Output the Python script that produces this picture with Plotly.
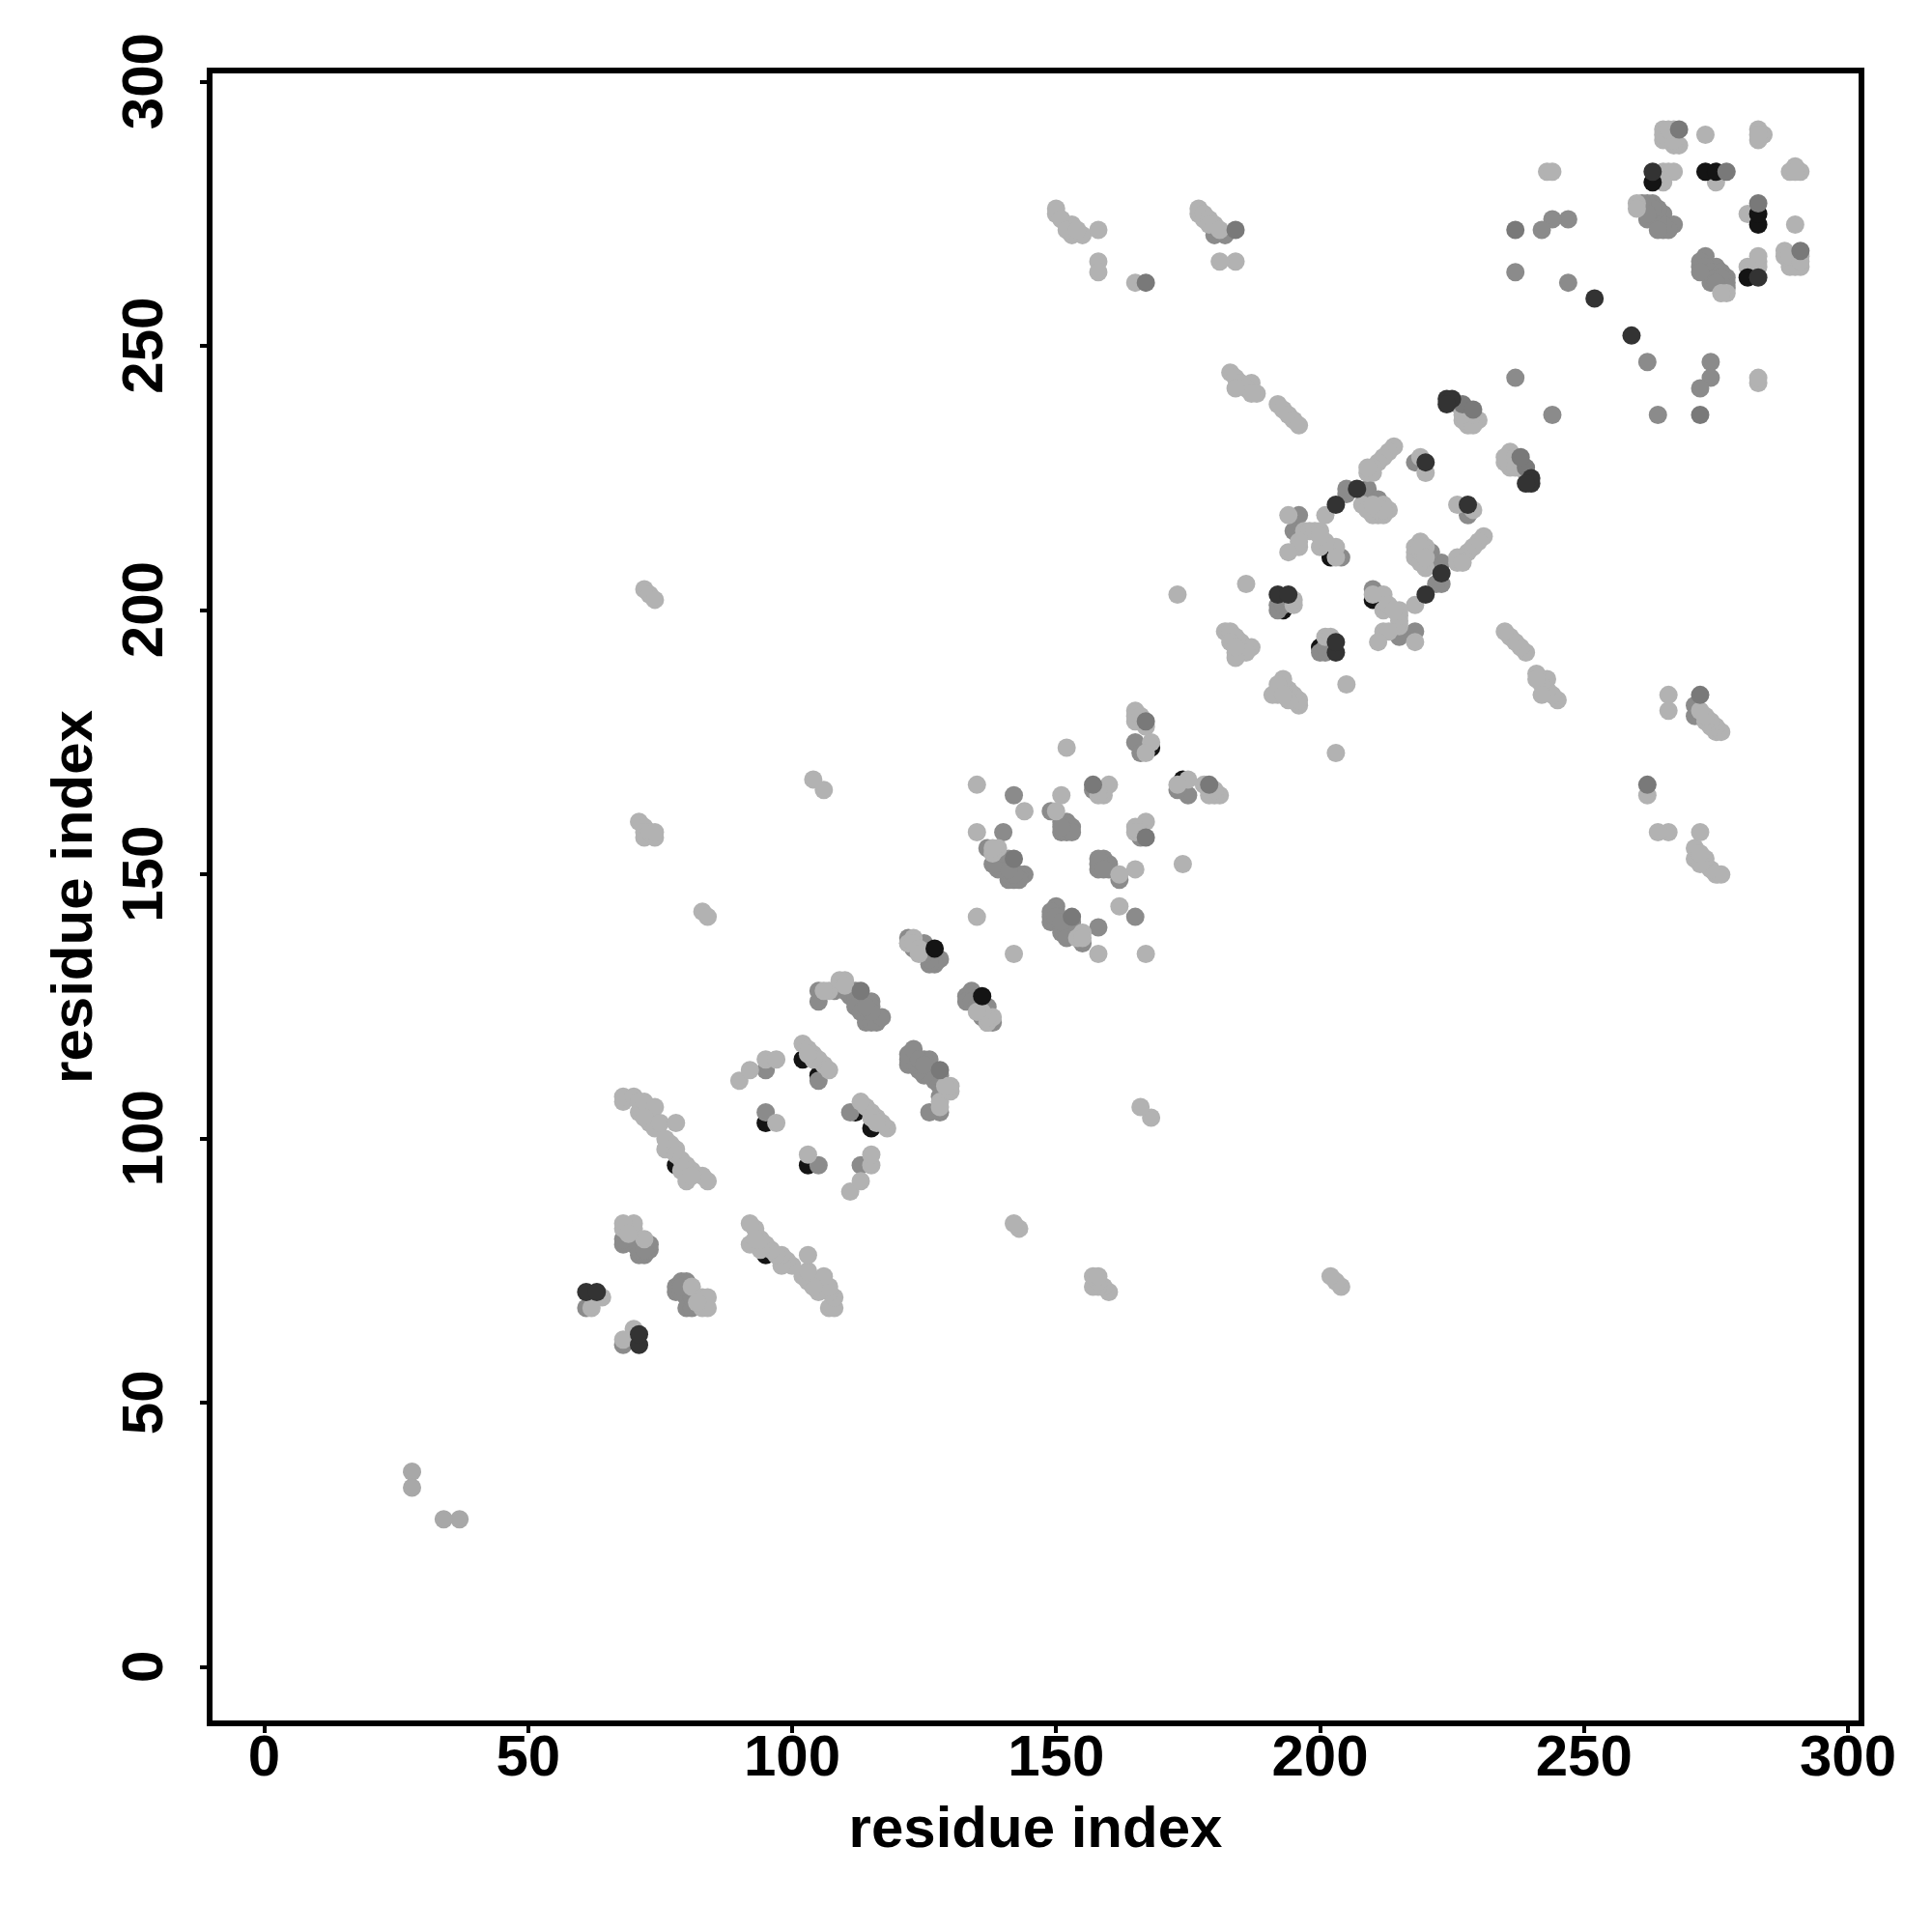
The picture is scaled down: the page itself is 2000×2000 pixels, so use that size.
import plotly.graph_objects as go

# Contact pairs (higher residue, lower residue); the map is symmetric, both halves are drawn.
black_under = [(95,78),(103,95),(115,102),(112,105),(174,168),(200,193),(211,203),(210,202)]
mid_pairs = [(37,28),(34,28)]
gray_pairs = [(68,61),(69,62),(78,71),(78,72),(79,73),(80,73),(79,71),(80,70),(80,68),(81,68),(81,70),(79,72),
 (113,95),(105,95),(111,105),(128,105),(126,105),(128,108),(128,110),(127,111),(128,112),(127,112),(126,113),(126,115),
 (125,112),(124,113),(123,114),(122,114),(122,115),(122,116),(123,117),(125,115),(124,115),(125,114),
 (134,128),(133,127),(133,126),(134,126),(135,125),(136,125),(137,125),(136,123),(137,122),(138,122),
 (165,142),(162,149),(160,151),(159,153),(158,151),(158,152),(160,152),(159,152),(158,153),(159,151),
 (166,157),(175,165),(173,166),(158,140),(155,137),(150,144),(149,142),(149,141),(150,143),(149,143),(150,141),
 (151,140),(152,140),(153,140),(153,141),(151,139),(152,139),(150,142),(151,141),(152,138),(154,139),
 (228,218),(223,209),(221,211),(223,205),(222,205),(218,196),(215,196),(215,195),(210,204),
 (201,192),(200,192),(201,193),(244,237),(274,247),(274,244),(272,242),(264,237),(262,247),
 (273,267),(272,265),(275,265),(274,262),(277,263),(272,266),(273,265),(274,264),(275,263),(276,262),(277,262),
 (276,264),(272,264),(276,263),(277,261),(275,262),(290,266),(289,266),(272,180),(271,180),(271,182)]
light_pairs = [(70,64),(68,62),(81,72),(83,70),(84,70),(83,68),(84,68),(82,69),
 (107,68),(108,68),(108,70),(107,71),(105,71),(107,72),(106,74),(103,73),(104,72),(102,74),(103,75),
 (103,78),(100,76),(99,77),(98,76),(98,78),(97,78),(96,79),(95,80),(94,79),(94,81),(92,80),(93,83),(92,84),(93,81),
 (111,90),(113,92),(115,95),(115,97),(103,97),
 (118,102),(117,103),(116,104),(115,105),(114,106),(113,107),(115,104),(116,103),
 (128,107),(130,109),(130,110),(129,110),(128,106),(137,122),(138,123),(137,123),(136,124),(135,124),
 (174,152),(181,165),(180,165),(179,165),(180,166),(178,167),(175,168),(173,167),(165,151),(167,135),(158,135),(162,144),
 (162,150),(167,160),(165,159),(165,158),(166,158),(155,139),(154,138),(142,135),(155,138),
 (245,183),(244,184),(243,185),(243,187),(242,186),(241,188),(241,187),(242,184),
 (239,192),(238,193),(237,194),(236,195),(235,196),
 (231,214),(230,213),(229,212),(228,211),(227,210),(226,209),(226,210),(227,209),
 (236,230),(235,228),(236,229),(237,228),(236,227),(235,229),(237,229),(238,227),(237,227),(239,226),
 (226,220),(229,219),(219,213),(218,211),(220,212),(218,210),(218,212),(220,208),(219,209),(219,211),(219,212),(220,210),
 (218,201),(218,194),(215,197),(215,198),(215,199),(215,200),(212,196),(213,196),(211,194),(212,200),(212,203),(213,201),(214,200),(210,203),
 (201,195),(202,195),(205,186),(203,173),
 (196,182),(196,183),(195,184),(194,185),(193,186),(193,187),(192,184),(192,185),(192,186),(191,184),(194,183),(193,184),
 (275,150),(276,150),(274,151),(273,153),(271,153),(271,155),(272,152),(272,154),
 (272,158),(266,158),(264,158),(262,165),(266,184),(266,181),
 (275,177),(276,177),(275,178),(274,178),(274,179),(273,179),(273,180),(272,181),
 (204,72),(203,73),(202,74),(160,71),(159,72),(158,72),(157,72),(158,73),(157,74),(158,74),(143,83),(142,84),(168,104),(166,106),
 (291,265),(289,265),(288,268),(290,265),(290,267),(288,267),(289,267),(291,267),(291,266),
 (291,283),(290,284),(289,283),(290,283),(283,265),(283,266),(283,267),(281,265),(281,275),(283,243),(283,244),(290,273),(277,260),(276,260)]
black_top = [(136,127),(283,273),(283,275),(281,263)]
darkgray_pairs = [(291,268),(283,277),(272,184),(262,167),(272,237),(179,167),(153,142),(128,113),(167,157),(239,227),(238,229)]
dark_pairs = [(71,61),(71,63),(220,203),(228,220),(223,207),(240,224),(240,225),(239,224),(203,192),(203,194),(259,252),(283,263)]

layers = [(black_under,"#141414"),(mid_pairs,"#a8a8a8"),(gray_pairs,"#8b8b8b"),(light_pairs,"#b2b2b2"),
          (black_top,"#141414"),(darkgray_pairs,"#797979"),(dark_pairs,"#333333")]

tick_values = [0,50,100,150,200,250,300]
y_tick_text = [f"{v}\u00a0" for v in tick_values]
axis_title = "residue index"
FONT = "Liberation Sans"

fig = go.Figure()
for pairs,color in layers:
    hi=[p[0] for p in pairs]; lo=[p[1] for p in pairs]
    fig.add_trace(go.Scatter(x=hi+lo,y=lo+hi,mode="markers",showlegend=False,
        marker=dict(size=19,color=color,line=dict(width=0))))

axis = dict(showgrid=False,zeroline=False,showline=True,linecolor="black",linewidth=6,mirror=True,
    ticks="outside",ticklen=7,tickwidth=4,tickcolor="black",tickvals=tick_values,
    tickfont=dict(family=FONT,size=60,color="black",weight="bold"),automargin=False)
title_font = dict(family=FONT,size=60,color="black",weight="bold")
fig.update_layout(width=2000,height=2000,paper_bgcolor="white",plot_bgcolor="white",
    margin=dict(l=212,r=84,t=68,b=227,pad=0),
    xaxis=dict(axis,range=[-9.79,302.01],ticklabelstandoff=-28,
        title=dict(text=axis_title,font=title_font,standoff=22)),
    yaxis=dict(axis,range=[-10.06,301.6],tickangle=-90,ticklabelstandoff=15,ticktext=y_tick_text,
        title=dict(text=axis_title,font=title_font,standoff=1)))
fig.write_html("out.html")
